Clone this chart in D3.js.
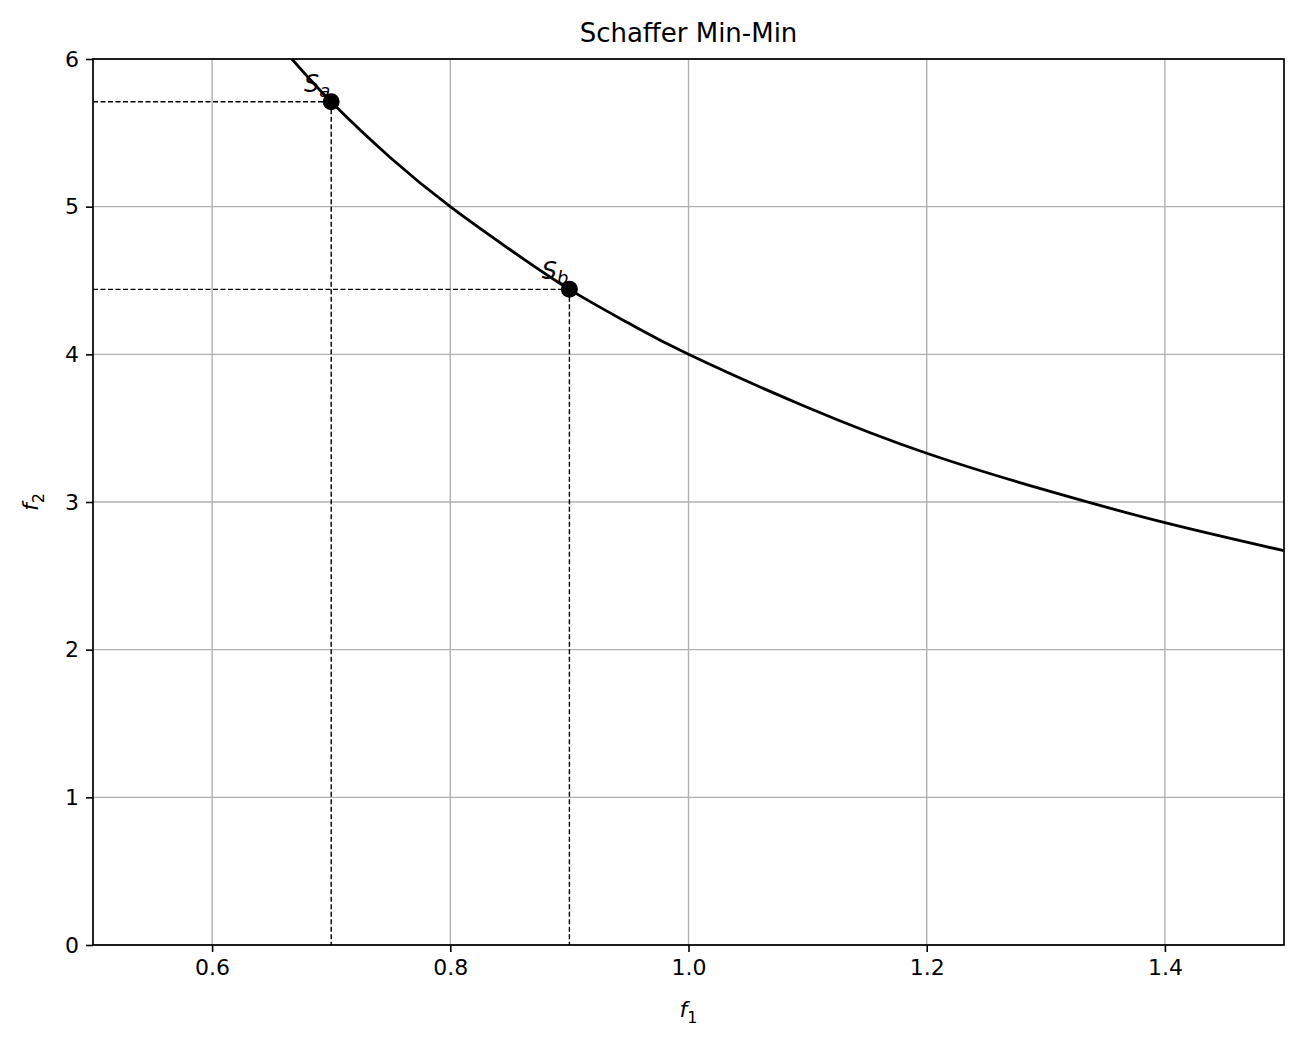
<!DOCTYPE html>
<html lang="en">
<head>
<meta charset="UTF-8">
<script src="https://d3js.org/d3.v7.min.js"></script>
<style>
  body { margin: 0; background: #fff; }
  text { font-family: "DejaVu Sans", sans-serif; }
</style>
</head>
<body>
<svg id="chart" width="1303" height="1049"></svg>
<script>
// front points
var frontF1 = [0.667, 0.7, 0.75, 0.8, 0.85, 0.9, 0.95, 1.0, 1.1, 1.2, 1.3, 1.4, 1.5];
var frontF2 = [6.0, 5.71, 5.33, 5.0, 4.71, 4.44, 4.21, 4.0, 3.64, 3.33, 3.08, 2.86, 2.67];
var solNames = ['a', 'b'];
var solF1 = [0.7, 0.9];
var solF2 = [5.71, 4.44];
var xTicks = [0.6, 0.8, 1.0, 1.2, 1.4];
var yTicks = [0, 1, 2, 3, 4, 5, 6];

var L = 93, R = 1284, T = 59, B = 945;
var svg = d3.select('#chart');
var x = d3.scaleLinear().domain([0.5, 1.5]).range([L, R]);
var y = d3.scaleLinear().domain([0, 6]).range([B, T]);

svg.append('defs').append('clipPath').attr('id', 'plot')
    .append('rect').attr('x', L).attr('y', T).attr('width', R - L).attr('height', B - T);

// grid
svg.append('g').selectAll('line').data(xTicks).join('line')
    .attr('x1', d => x(d)).attr('x2', d => x(d)).attr('y1', T).attr('y2', B)
    .attr('stroke', '#b0b0b0').attr('stroke-width', 1.4);
svg.append('g').selectAll('line').data(yTicks).join('line')
    .attr('y1', d => y(d)).attr('y2', d => y(d)).attr('x1', L).attr('x2', R)
    .attr('stroke', '#b0b0b0').attr('stroke-width', 1.4);

var plot = svg.append('g').attr('clip-path', 'url(#plot)');
var pts = frontF1.map((d, i) => [d, frontF2[i]]);
plot.append('path').datum(pts)
    .attr('d', d3.line().x(d => x(d[0])).y(d => y(d[1])).curve(d3.curveNatural))
    .attr('fill', 'none').attr('stroke', '#000').attr('stroke-width', 2.8);

solF1.forEach(function (f1, i) {
    var px = x(f1), py = y(solF2[i]);
    plot.append('line').attr('x1', L).attr('x2', px).attr('y1', py).attr('y2', py)
        .attr('stroke', '#000').attr('stroke-width', 1.4).attr('stroke-dasharray', '5,2.5');
    plot.append('line').attr('x1', px).attr('x2', px).attr('y1', py).attr('y2', B)
        .attr('stroke', '#000').attr('stroke-width', 1.4).attr('stroke-dasharray', '5,2.5');
    plot.append('circle').attr('cx', px).attr('cy', py).attr('r', 8.5).attr('fill', '#000');
});
solF1.forEach(function (f1, i) {
    var px = x(f1), py = y(solF2[i]);
    var t = svg.append('text').attr('x', px - 1).attr('y', py - 10).attr('text-anchor', 'end')
        .attr('font-size', 24);
    t.append('tspan').attr('font-style', 'italic').text('S');
    t.append('tspan').attr('font-style', 'italic').attr('font-size', 18).attr('dy', 5).text(solNames[i]);
});

// axes
var xAxis = svg.append('g').attr('transform', 'translate(0,' + B + ')')
    .call(d3.axisBottom(x).tickValues(xTicks).tickFormat(d3.format('.1f')).tickSize(7).tickPadding(7));
var yAxis = svg.append('g').attr('transform', 'translate(' + L + ',0)')
    .call(d3.axisLeft(y).tickValues(yTicks).tickFormat(d3.format('d')).tickSize(7).tickPadding(7));
[xAxis, yAxis].forEach(function (a) {
    a.select('.domain').remove();
    a.selectAll('text').attr('font-size', 22).attr('fill', '#000').attr('font-family', '"DejaVu Sans", sans-serif');
    a.selectAll('line').attr('stroke-width', 1.6);
});
svg.append('rect').attr('x', L).attr('y', T).attr('width', R - L).attr('height', B - T)
    .attr('fill', 'none').attr('stroke', '#000').attr('stroke-width', 1.7);

svg.append('text').attr('x', (L + R) / 2).attr('y', 42).attr('text-anchor', 'middle')
    .attr('font-size', 26).text('Schaffer Min-Min');

var xl = svg.append('text').attr('x', (L + R) / 2).attr('y', 1017).attr('text-anchor', 'middle').attr('font-size', 22);
xl.append('tspan').attr('font-style', 'italic').text('f');
xl.append('tspan').attr('font-size', 16).attr('dy', 6).text('1');
var yl = svg.append('text').attr('transform', 'translate(38,' + ((T + B) / 2) + ') rotate(-90)')
    .attr('text-anchor', 'middle').attr('font-size', 22);
yl.append('tspan').attr('font-style', 'italic').text('f');
yl.append('tspan').attr('font-size', 16).attr('dy', 6).text('2');
</script>
</body>
</html>
